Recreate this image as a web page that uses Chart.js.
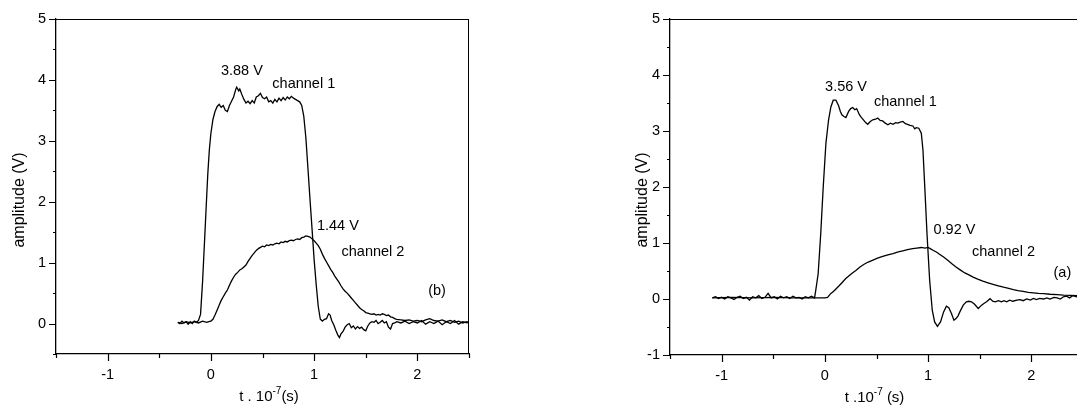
<!DOCTYPE html>
<html><head><meta charset="utf-8">
<script src="https://cdn.jsdelivr.net/npm/chart.js@4/dist/chart.umd.min.js"></script>
<style>
html,body{margin:0;padding:0;background:#fff;overflow:hidden;width:1077px;height:410px;}
#wrap{position:relative;width:1077px;height:410px;overflow:hidden;background:#fff;}
canvas{position:absolute;top:0;}
</style></head><body>
<div id="wrap">
<canvas id="cb" width="480" height="410" style="left:0;width:480px;height:410px"></canvas>
<canvas id="ca" width="470" height="410" style="left:630px;width:470px;height:410px"></canvas>
</div>
<script>
// ---------- DATA (t in 1e-7 s, amplitude in V) ----------
// Panel (b)
const ch1B = [[-0.32,0.02],[-0.30,0.0],[-0.28,0.04],[-0.26,0.01],[-0.24,0.03],[-0.22,-0.01],[-0.20,0.03],[-0.18,0.0],[-0.16,0.04],[-0.14,0.02],[-0.12,0.05],
[-0.10,0.15],[-0.08,0.7],[-0.06,1.4],[-0.045,1.93],[-0.03,2.45],[-0.015,2.85],[0.0,3.12],[0.02,3.35],[0.04,3.48],[0.06,3.56],[0.08,3.6],[0.10,3.55],[0.12,3.58],[0.14,3.5],[0.16,3.48],[0.18,3.58],[0.20,3.65],[0.22,3.72],[0.24,3.84],[0.25,3.88],[0.27,3.82],[0.28,3.85],[0.30,3.76],[0.32,3.68],[0.34,3.62],[0.36,3.65],[0.38,3.61],[0.40,3.66],[0.42,3.62],[0.44,3.72],[0.46,3.74],[0.48,3.78],[0.50,3.71],[0.52,3.69],[0.54,3.72],[0.56,3.64],[0.58,3.66],[0.60,3.62],[0.62,3.68],[0.64,3.64],[0.66,3.7],[0.68,3.66],[0.70,3.71],[0.72,3.67],[0.74,3.72],[0.76,3.69],[0.78,3.73],[0.80,3.7],[0.82,3.68],[0.84,3.66],[0.86,3.64],[0.88,3.58],[0.90,3.4],[0.92,3.05],[0.94,2.55],[0.96,2.04],[0.98,1.55],[1.00,1.05],[1.02,0.64],[1.04,0.28],[1.06,0.07],[1.08,0.04],[1.10,0.07],[1.12,0.08],[1.14,0.16],[1.155,0.14],[1.17,0.05],[1.19,-0.02],[1.21,-0.11],[1.23,-0.19],[1.245,-0.23],[1.26,-0.17],[1.28,-0.13],[1.30,-0.06],[1.32,-0.02],[1.34,0.0],[1.36,-0.07],[1.38,-0.04],[1.40,-0.09],[1.42,-0.05],[1.44,-0.08],[1.46,-0.06],[1.48,-0.1],[1.50,-0.12],[1.52,-0.04],[1.54,0.01],[1.56,0.03],[1.58,0.02],[1.60,0.05],[1.62,0.0],[1.64,0.02],[1.66,0.05],[1.68,0.01],[1.70,0.03],[1.72,-0.06],[1.74,-0.09],[1.76,0.0],[1.78,0.01],[1.80,0.03],[1.84,0.01],[1.88,0.04],[1.92,0.0],[1.96,0.03],[2.0,0.01],[2.04,0.05],[2.08,-0.01],[2.12,0.03],[2.16,0.0],[2.20,0.04],[2.24,-0.02],[2.28,0.03],[2.32,0.0],[2.36,0.05],[2.40,-0.01],[2.44,0.03],[2.48,0.01],[2.5,0.02]];
const ch2B = [[-0.32,0.02],[-0.28,0.0],[-0.24,0.03],[-0.20,0.01],[-0.16,0.03],[-0.12,0.01],[-0.08,0.04],[-0.04,0.02],[-0.02,0.03],[0.0,0.04],[0.02,0.07],[0.04,0.14],[0.06,0.22],[0.08,0.3],[0.10,0.38],[0.12,0.44],[0.14,0.5],[0.16,0.55],[0.18,0.63],[0.20,0.7],[0.22,0.76],[0.24,0.81],[0.26,0.84],[0.28,0.88],[0.30,0.9],[0.32,0.93],[0.34,0.96],[0.36,1.02],[0.38,1.07],[0.40,1.12],[0.42,1.16],[0.44,1.2],[0.46,1.23],[0.48,1.25],[0.50,1.27],[0.52,1.26],[0.54,1.29],[0.56,1.28],[0.58,1.3],[0.60,1.29],[0.62,1.31],[0.64,1.32],[0.66,1.31],[0.68,1.34],[0.70,1.33],[0.72,1.35],[0.74,1.34],[0.76,1.36],[0.78,1.37],[0.80,1.36],[0.82,1.38],[0.84,1.39],[0.86,1.38],[0.88,1.41],[0.90,1.42],[0.92,1.44],[0.94,1.43],[0.96,1.42],[0.98,1.39],[1.00,1.36],[1.02,1.32],[1.04,1.28],[1.06,1.22],[1.08,1.14],[1.10,1.07],[1.12,1.01],[1.14,0.95],[1.16,0.89],[1.18,0.84],[1.20,0.78],[1.22,0.73],[1.24,0.68],[1.26,0.62],[1.28,0.57],[1.30,0.53],[1.32,0.5],[1.34,0.46],[1.36,0.42],[1.38,0.38],[1.40,0.34],[1.42,0.3],[1.44,0.26],[1.46,0.23],[1.48,0.21],[1.50,0.18],[1.52,0.17],[1.54,0.16],[1.56,0.15],[1.58,0.16],[1.60,0.14],[1.62,0.15],[1.64,0.14],[1.66,0.16],[1.68,0.15],[1.70,0.13],[1.72,0.14],[1.74,0.11],[1.76,0.1],[1.78,0.08],[1.80,0.07],[1.84,0.06],[1.88,0.05],[1.92,0.06],[1.96,0.04],[2.0,0.05],[2.04,0.03],[2.08,0.06],[2.12,0.08],[2.16,0.05],[2.20,0.04],[2.24,0.06],[2.28,0.03],[2.32,0.05],[2.36,0.02],[2.40,0.04],[2.44,0.01],[2.48,0.03],[2.5,0.02]];
// Panel (a)
const ch1A = [[-1.09,0.02],[-1.06,0.04],[-1.03,0.01],[-1.0,0.03],[-0.97,0.0],[-0.94,0.04],[-0.91,0.02],[-0.88,-0.01],[-0.85,0.03],[-0.82,0.05],[-0.79,0.01],[-0.76,0.03],[-0.73,-0.02],[-0.70,0.04],[-0.67,0.02],[-0.64,0.06],[-0.61,0.01],[-0.58,0.03],[-0.55,0.1],[-0.52,0.02],[-0.49,0.04],[-0.46,0.0],[-0.43,0.05],[-0.40,0.02],[-0.37,0.04],[-0.34,0.01],[-0.31,0.05],[-0.28,0.02],[-0.25,0.03],[-0.22,0.0],[-0.19,0.04],[-0.16,0.02],[-0.13,0.05],[-0.10,0.02],
[-0.088,0.16],[-0.065,0.45],[-0.04,1.17],[-0.016,2.0],[0.01,2.78],[0.036,3.2],[0.058,3.43],[0.081,3.55],[0.107,3.55],[0.133,3.45],[0.15,3.35],[0.165,3.29],[0.185,3.26],[0.204,3.24],[0.23,3.35],[0.25,3.40],[0.27,3.42],[0.29,3.38],[0.308,3.40],[0.334,3.29],[0.355,3.24],[0.373,3.20],[0.395,3.15],[0.415,3.12],[0.44,3.17],[0.464,3.20],[0.49,3.21],[0.512,3.23],[0.535,3.19],[0.56,3.18],[0.585,3.14],[0.61,3.11],[0.635,3.14],[0.66,3.12],[0.685,3.15],[0.707,3.14],[0.73,3.16],[0.755,3.17],[0.78,3.13],[0.80,3.12],[0.825,3.1],[0.853,3.09],[0.87,3.04],[0.885,3.06],[0.91,3.05],[0.934,2.96],[0.95,2.66],[0.966,2.06],[0.989,1.17],[1.015,0.33],[1.04,-0.2],[1.063,-0.41],[1.09,-0.49],[1.12,-0.41],[1.15,-0.23],[1.177,-0.13],[1.20,-0.155],[1.226,-0.26],[1.25,-0.38],[1.27,-0.35],[1.29,-0.3],[1.307,-0.23],[1.34,-0.11],[1.37,-0.05],[1.395,-0.04],[1.42,-0.05],[1.45,-0.095],[1.485,-0.17],[1.518,-0.11],[1.54,-0.08],[1.566,-0.05],[1.6,0.006],[1.625,-0.04],[1.65,-0.05],[1.68,-0.03],[1.71,-0.05],[1.735,-0.03],[1.76,-0.05],[1.79,-0.02],[1.82,-0.04],[1.86,-0.02],[1.89,-0.01],[1.92,-0.03],[1.955,0.0],[1.99,-0.02],[2.02,0.01],[2.05,-0.01],[2.08,0.01],[2.12,0.0],[2.15,0.02],[2.18,0.0],[2.22,0.03],[2.25,0.02],[2.28,0.0],[2.31,0.04],[2.34,0.05],[2.37,0.02],[2.40,0.06],[2.44,0.04],[2.47,0.03],[2.5,0.05]];
const ch2A = [[-1.09,0.02],[-0.9,0.03],[-0.7,0.02],[-0.5,0.03],[-0.3,0.02],[-0.1,0.02],[0.0,0.02],[0.026,0.03],[0.058,0.1],[0.08,0.13],[0.107,0.18],[0.14,0.24],[0.17,0.30],[0.20,0.36],[0.237,0.42],[0.27,0.47],[0.30,0.51],[0.34,0.57],[0.38,0.62],[0.42,0.66],[0.46,0.69],[0.51,0.73],[0.56,0.76],[0.61,0.79],[0.66,0.81],[0.71,0.84],[0.755,0.86],[0.80,0.88],[0.85,0.90],[0.89,0.91],[0.934,0.92],[0.97,0.91],[0.999,0.92],[1.02,0.9],[1.047,0.87],[1.08,0.84],[1.11,0.80],[1.15,0.75],[1.19,0.69],[1.23,0.63],[1.27,0.57],[1.31,0.52],[1.355,0.465],[1.395,0.43],[1.436,0.39],[1.48,0.355],[1.53,0.32],[1.58,0.29],[1.63,0.26],[1.68,0.235],[1.73,0.21],[1.78,0.19],[1.825,0.167],[1.87,0.15],[1.92,0.137],[1.97,0.12],[2.02,0.11],[2.07,0.1],[2.12,0.095],[2.18,0.085],[2.25,0.078],[2.31,0.07],[2.38,0.066],[2.44,0.062],[2.5,0.06]];

// Axis settings
const xRange = [-1.5, 2.5];
const yRangeB = [-0.5, 5];
const yRangeA = [-1, 5];

// Annotation texts (placed in data coordinates)
const labelsB = [{text:'3.88 V', x:0.30, y:4.14},{text:'channel 1', x:0.90, y:3.94},{text:'1.44 V', x:1.23, y:1.60},{text:'channel 2', x:1.57, y:1.17},{text:'(b)', x:2.19, y:0.53}];
const labelsA = [{text:'3.56 V', x:0.205, y:3.79},{text:'channel 1', x:0.78, y:3.52},{text:'0.92 V', x:1.255, y:1.23},{text:'channel 2', x:1.73, y:0.84},{text:'(a)', x:2.30, y:0.47}];

const FONT = '"Liberation Sans", Arial, Helvetica, sans-serif';

const decoPlugin = {
  id: 'deco',
  afterDraw(chart, args, o) {
    const ctx = chart.ctx, ca = chart.chartArea, xs = chart.scales.x, ys = chart.scales.y;
    ctx.save();
    ctx.strokeStyle = '#000';
    ctx.lineWidth = 1;
    ctx.beginPath();
    ctx.moveTo(ca.left, Math.round(ca.top) + 0.5); ctx.lineTo(ca.right, Math.round(ca.top) + 0.5);
    ctx.moveTo(Math.round(ca.right) - 0.5, ca.top); ctx.lineTo(Math.round(ca.right) - 0.5, ca.bottom);
    ctx.stroke();
    ctx.lineWidth = 1.2;
    ctx.beginPath();
    for (let i = 0; ; i++) {
      const v = xs.min + i * 0.5; if (v > xs.max + 1e-9) break;
      const px = Math.round(xs.getPixelForValue(v)) + 0.5;
      const len = Math.abs(v - Math.round(v)) < 1e-6 ? 7 : 4;
      ctx.moveTo(px, ca.bottom); ctx.lineTo(px, ca.bottom + len);
    }
    for (let i = 0; ; i++) {
      const v = ys.min + i * 0.5; if (v > ys.max + 1e-9) break;
      const py = Math.round(ys.getPixelForValue(v)) + 0.5;
      const len = Math.abs(v - Math.round(v)) < 1e-6 ? 7 : 3;
      ctx.moveTo(ca.left - len, py); ctx.lineTo(ca.left, py);
    }
    ctx.stroke();
    ctx.fillStyle = '#000';
    ctx.textAlign = 'center'; ctx.textBaseline = 'middle';
    ctx.font = '14.5px ' + FONT;
    o.labels.forEach(a => ctx.fillText(a.text, xs.getPixelForValue(a.x), ys.getPixelForValue(a.y)));
    // y title
    ctx.save();
    ctx.font = '16px ' + FONT;
    ctx.translate(o.yTitle.px, o.yTitle.py); ctx.rotate(-Math.PI / 2);
    ctx.fillText(o.yTitle.text, 0, 0);
    ctx.restore();
    // x title with superscript
    const t = o.xTitle;
    const big = '15px ' + FONT, small = '10px ' + FONT;
    ctx.font = big; const w1 = ctx.measureText(t.a).width, w3 = ctx.measureText(t.c).width;
    ctx.font = small; const w2 = ctx.measureText(t.b).width;
    let x0 = t.px - (w1 + w2 + w3) / 2;
    ctx.textAlign = 'left';
    ctx.font = big; ctx.fillText(t.a, x0, t.py);
    ctx.font = small; ctx.fillText(t.b, x0 + w1, t.py - 6);
    ctx.font = big; ctx.fillText(t.c, x0 + w1 + w2, t.py);
    ctx.restore();
  }
};

function toPts(arr) { return arr.map(p => ({x: p[0], y: p[1]})); }

function makePanel(id, c1, c2, yr, geom, labels, xTitle, yTitle) {
  const tickFont = {family: FONT, size: 14.5};
  return new Chart(document.getElementById(id), {
    type: 'scatter',
    data: {datasets: [
      {data: toPts(c1), showLine: true, borderColor: '#000', borderWidth: 1.3, pointRadius: 0, tension: 0},
      {data: toPts(c2), showLine: true, borderColor: '#000', borderWidth: 1.3, pointRadius: 0, tension: 0}
    ]},
    options: {
      responsive: false, animation: false, devicePixelRatio: 1,
      layout: {padding: {top: geom.top, right: geom.right, left: 0, bottom: 0}},
      plugins: {legend: {display: false}, tooltip: {enabled: false},
        deco: {labels: labels, xTitle: xTitle, yTitle: yTitle}},
      scales: {
        x: {type: 'linear', min: xRange[0], max: xRange[1],
          afterFit: s => { s.height = geom.xh; },
          grid: {display: false, drawTicks: true, tickLength: 7},
          border: {display: true, color: '#000', width: 1.3},
          ticks: {stepSize: 0.5, autoSkip: false, maxRotation: 0, padding: 5, color: '#000', font: tickFont,
            callback: v => Math.abs(v - Math.round(v)) < 1e-6 ? String(Math.round(v)) : ''}},
        y: {type: 'linear', min: yr[0], max: yr[1],
          afterFit: s => { s.width = geom.yw; },
          grid: {display: false, drawTicks: true, tickLength: 7},
          border: {display: true, color: '#000', width: 1.3},
          ticks: {stepSize: 0.5, autoSkip: false, padding: 3, color: '#000', font: tickFont,
            callback: v => Math.abs(v - Math.round(v)) < 1e-6 ? String(Math.round(v)) : ''}}
      }
    },
    plugins: [decoPlugin]
  });
}

makePanel('cb', ch1B, ch2B, yRangeB, {top: 19, right: 11, yw: 56, xh: 56}, labelsB,
  {a: 't . 10', b: '-7', c: '(s)', px: 269, py: 397}, {text: 'amplitude (V)', px: 20, py: 200});
makePanel('ca', ch1A, ch2A, yRangeA, {top: 19, right: 17, yw: 40, xh: 55}, labelsA,
  {a: 't .10', b: '-7', c: ' (s)', px: 244.5, py: 398}, {text: 'amplitude (V)', px: 13, py: 200});
</script>
</body></html>
